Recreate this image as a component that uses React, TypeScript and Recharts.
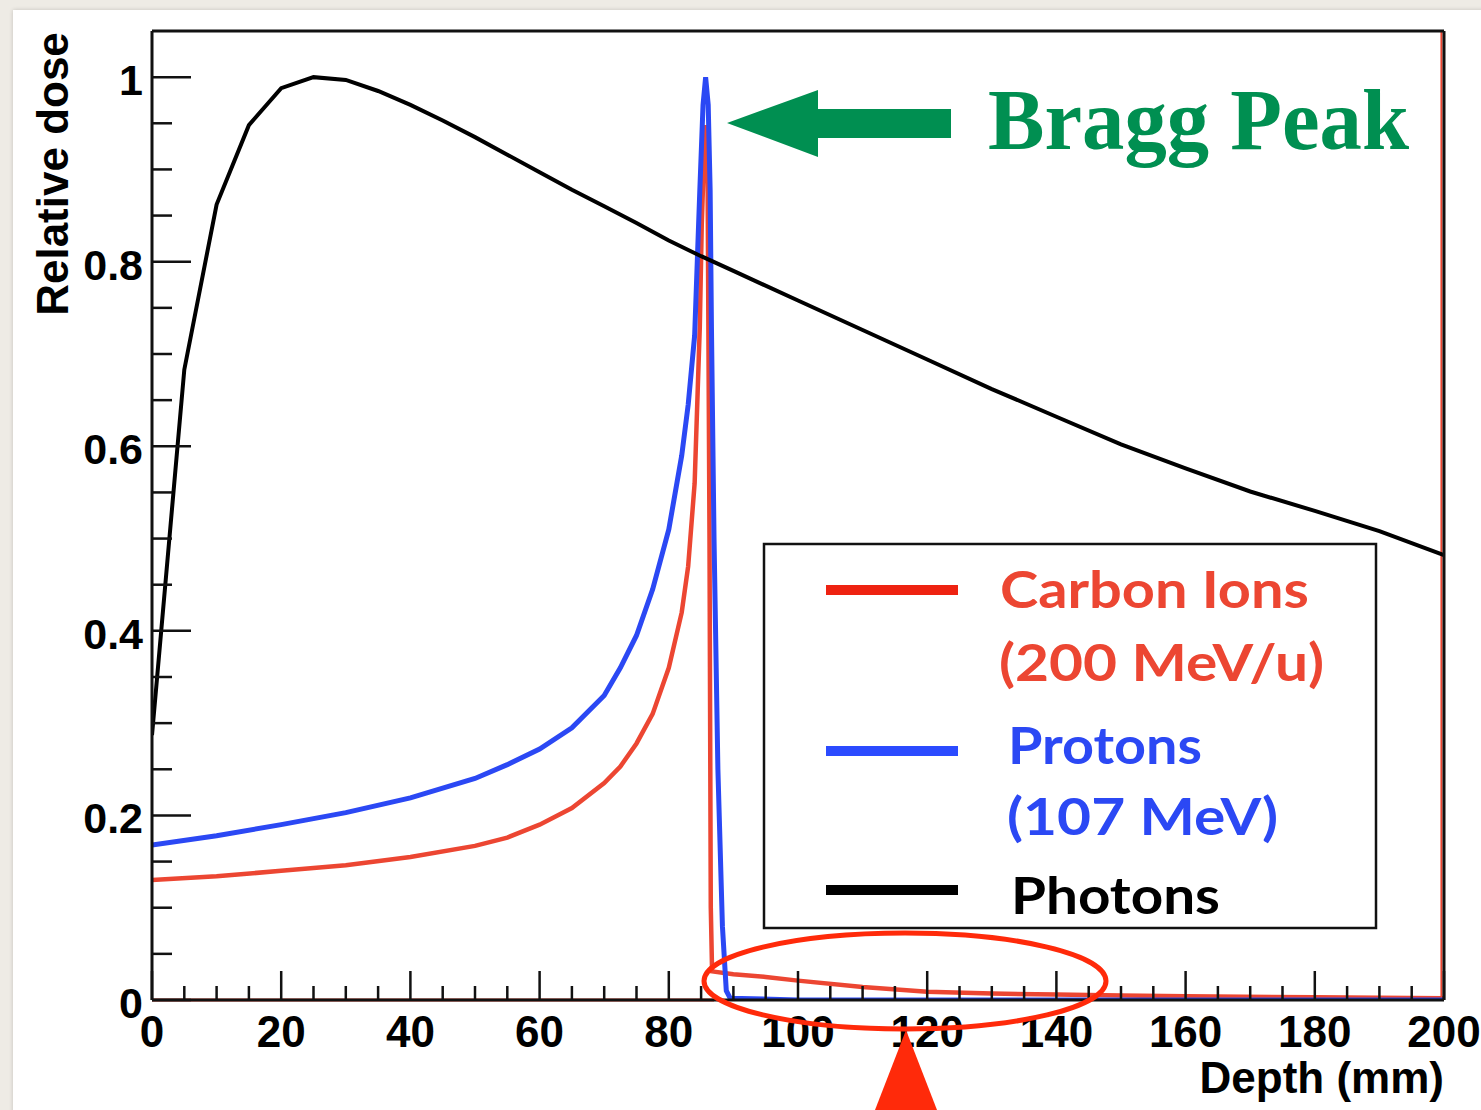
import React from 'react';
import { LineChart, Line, XAxis, YAxis, ReferenceLine } from 'recharts';

// depth in mm, dose relative to the photon maximum
const photonDepth = [0, 5, 10, 15, 20, 25, 30, 35, 40, 45, 50, 55, 60, 65, 70, 75, 80, 85, 90, 100, 110, 120, 130, 140, 150, 160, 170, 180, 190, 200];
const photonDose = [0.287, 0.683, 0.862, 0.948, 0.988, 1.0, 0.997, 0.985, 0.97, 0.953, 0.935, 0.916, 0.897, 0.878, 0.86, 0.842, 0.823, 0.806, 0.79, 0.758, 0.726, 0.694, 0.662, 0.632, 0.602, 0.576, 0.551, 0.53, 0.508, 0.482];

const protonDepth = [0, 10, 20, 30, 40, 50, 55, 60, 65, 70, 72.5, 75, 77.5, 80, 82, 83, 84, 84.8, 85.3, 85.7, 86.1, 86.4, 86.6, 87.0, 87.6, 88.3, 88.9, 89.5, 100, 150, 200];
const protonDose = [0.168, 0.178, 0.19, 0.203, 0.219, 0.24, 0.255, 0.272, 0.295, 0.33, 0.36, 0.395, 0.445, 0.51, 0.59, 0.645, 0.72, 0.877, 0.97, 1.0, 0.97, 0.877, 0.73, 0.5, 0.25, 0.08, 0.01, 0.002, 0, 0, 0];

const carbonDepth = [0, 10, 20, 30, 40, 50, 55, 60, 65, 70, 72.5, 75, 77.5, 80, 82, 83, 84, 84.8, 85.1, 85.6, 86.0, 86.3, 86.5, 86.7, 90, 95, 100, 110, 120, 130, 140, 150, 160, 180, 200];
const carbonDose = [0.13, 0.134, 0.14, 0.146, 0.155, 0.167, 0.176, 0.19, 0.208, 0.235, 0.253, 0.278, 0.31, 0.36, 0.42, 0.47, 0.56, 0.73, 0.84, 0.948, 0.9, 0.5, 0.1, 0.031, 0.028, 0.025, 0.021, 0.014, 0.009, 0.007, 0.006, 0.005, 0.004, 0.003, 0.002];

const xLabels = [0, 20, 40, 60, 80, 100, 120, 140, 160, 180, 200];
const yLabels = ['0', '0.2', '0.4', '0.6', '0.8', '1'];
const xTicks = Array.from({ length: 41 }, (_, i) => i * 5);
const yTicks = Array.from({ length: 21 }, (_, i) => i * 0.05);

const toRows = (depth: number[], dose: number[]) => depth.map((d, i) => ({ depth: d, dose: dose[i] }));
const photons = toRows(photonDepth, photonDose);
const protons = toRows(protonDepth, protonDose);
const carbon = toRows(carbonDepth, carbonDose);

const RED = '#ec4632';
const BLUE = '#2b48f4';
const GREEN = '#008f51';
const AXIS_FONT = '"Liberation Sans", Arial, sans-serif';
const LEGEND_FONT = 'Lato, "Open Sans", sans-serif';

const XTick = (props: any) => {
  const { x, y, payload } = props;
  const v = Math.round(payload.value);
  const major = v % 20 === 0;
  return (
    <g>
      <line x1={x} x2={x} y1={y} y2={y - (major ? 29 : 14)} stroke="#111" strokeWidth={2.5} />
      {major && xLabels.includes(v) && (
        <text x={x} y={y + 47} textAnchor="middle" fontFamily={AXIS_FONT} fontWeight={700} fontSize={44} fill="#000">
          {v}
        </text>
      )}
    </g>
  );
};

const YTick = (props: any) => {
  const { x, y, payload } = props;
  const k = Math.round(payload.value * 100);
  const major = k % 20 === 0;
  return (
    <g>
      <line x1={x} x2={x + (major ? 39 : 20)} y1={y} y2={y} stroke="#111" strokeWidth={2.5} />
      {major && (
        <text x={x - 9} y={y + 18} textAnchor="end" fontFamily={AXIS_FONT} fontWeight={700} fontSize={43} fill="#000">
          {yLabels[k / 20]}
        </text>
      )}
    </g>
  );
};

export default function App() {
  return (
    <div style={{ position: 'absolute', left: 0, top: 0, width: 1481, height: 1110, background: '#eeebe5', overflow: 'hidden' }}>
      <div style={{ position: 'absolute', left: 13, top: 10, width: 1480, height: 1110, background: '#fff', boxShadow: '0 0 4px rgba(0,0,0,0.18)' }} />
      <div style={{ position: 'absolute', left: 0, top: 0 }}>
        <LineChart width={1481} height={1110} margin={{ top: 31, right: 37, bottom: 50, left: 92 }}>
          <XAxis
            type="number"
            dataKey="depth"
            domain={[0, 200]}
            ticks={xTicks}
            interval={0}
            height={60}
            tickSize={0}
            tickMargin={0}
            tickLine={false}
            axisLine={{ stroke: '#111', strokeWidth: 3 }}
            tick={<XTick />}
            allowDataOverflow
          />
          <YAxis
            type="number"
            domain={[0, 1.05]}
            ticks={yTicks}
            interval={0}
            width={60}
            tickSize={0}
            tickMargin={0}
            tickLine={false}
            axisLine={{ stroke: '#111', strokeWidth: 3 }}
            tick={<YTick />}
            allowDataOverflow
          />
          <ReferenceLine segment={[{ x: 0, y: 0 }, { x: 87, y: 0 }]} stroke={RED} strokeWidth={3} />
          <ReferenceLine segment={[{ x: 199.6, y: 0 }, { x: 199.6, y: 1.05 }]} stroke={RED} strokeWidth={2} />
          <Line data={carbon} dataKey="dose" type="linear" stroke={RED} strokeWidth={4.5} dot={false} isAnimationActive={false} />
          <Line data={protons} dataKey="dose" type="linear" stroke={BLUE} strokeWidth={5} dot={false} isAnimationActive={false} />
          <Line data={photons} dataKey="dose" type="linear" stroke="#000" strokeWidth={4} dot={false} isAnimationActive={false} />
          <ReferenceLine y={1.05} stroke="#111" strokeWidth={3} />
          <ReferenceLine x={200} stroke="#111" strokeWidth={3} />
        </LineChart>
      </div>
      <svg width={1481} height={1110} style={{ position: 'absolute', left: 0, top: 0, pointerEvents: 'none' }}>
        <text x={68} y={174} transform="rotate(-90 68 174)" textAnchor="middle" fontFamily={AXIS_FONT} fontWeight={700} fontSize={44} fill="#000">
          Relative dose
        </text>
        <text x={1444} y={1093} textAnchor="end" fontFamily={AXIS_FONT} fontWeight={700} fontSize={44} fill="#000">
          Depth (mm)
        </text>

        <polygon points="727,123 818,90 818,109 951,109 951,138 818,138 818,157" fill={GREEN} />
        <text x={988} y={149} fontFamily='"Liberation Serif", "DejaVu Serif", serif' fontWeight={700} fontSize={86} fill={GREEN} textLength={421} lengthAdjust="spacingAndGlyphs">
          Bragg Peak
        </text>

        <rect x={764} y={544} width={612} height={384} fill="#fff" stroke="#111" strokeWidth={2.5} />
        <line x1={826} x2={958} y1={590} y2={590} stroke="#ee2211" strokeWidth={10} />
        <line x1={826} x2={958} y1={751} y2={751} stroke="#2b4bff" strokeWidth={10} />
        <line x1={826} x2={958} y1={890} y2={890} stroke="#000" strokeWidth={10} />
        <g fontFamily={LEGEND_FONT} fontWeight={700} fontSize={52}>
          <text x={1000} y={608} fill={RED} textLength={309} lengthAdjust="spacingAndGlyphs">Carbon Ions</text>
          <text x={999} y={681} fill={RED} textLength={325} lengthAdjust="spacingAndGlyphs">(200 MeV/u)</text>
          <text x={1008} y={764} fill={BLUE} textLength={194} lengthAdjust="spacingAndGlyphs">Protons</text>
          <text x={1007} y={835} fill={BLUE} textLength={271} lengthAdjust="spacingAndGlyphs">(107 MeV)</text>
          <text x={1011} y={914} fill="#000" textLength={209} lengthAdjust="spacingAndGlyphs">Photons</text>
        </g>

        <ellipse cx={905} cy={981} rx={201} ry={48} fill="none" stroke="#ff2a0a" strokeWidth={5} />
        <polygon points="906,1030 875,1110 937,1110" fill="#ff2a0a" />
      </svg>
    </div>
  );
}
